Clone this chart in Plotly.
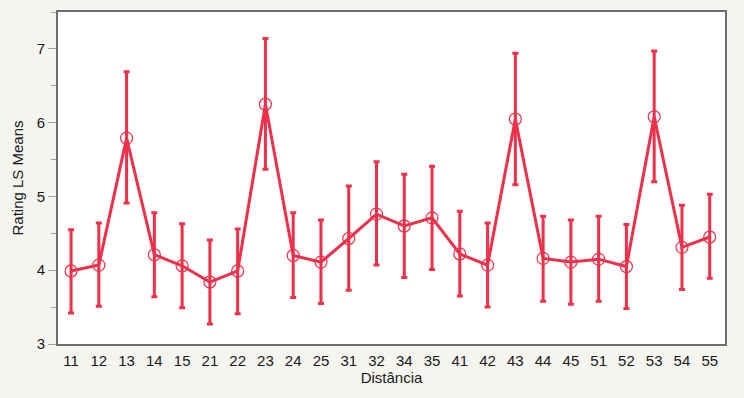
import plotly.graph_objects as go

categories = ["11", "12", "13", "14", "15", "21", "22", "23", "24", "25", "31", "32",
              "34", "35", "41", "42", "43", "44", "45", "51", "52", "53", "54", "55"]
means = [3.99, 4.07, 5.79, 4.21, 4.06, 3.84, 3.99, 6.25, 4.20, 4.11, 4.43, 4.76,
         4.60, 4.71, 4.22, 4.07, 6.05, 4.16, 4.11, 4.15, 4.05, 6.08, 4.31, 4.45]
upper = [4.55, 4.64, 6.69, 4.78, 4.63, 4.41, 4.56, 7.14, 4.78, 4.68, 5.14, 5.47,
         5.30, 5.41, 4.80, 4.64, 6.94, 4.73, 4.68, 4.73, 4.62, 6.97, 4.88, 5.03]
lower = [3.42, 3.51, 4.91, 3.64, 3.49, 3.27, 3.41, 5.37, 3.63, 3.55, 3.73, 4.07,
         3.90, 4.01, 3.65, 3.50, 5.16, 3.58, 3.54, 3.58, 3.48, 5.20, 3.74, 3.89]
y_ticks = [3, 4, 5, 6, 7]

red = "#F0304A"
err_plus = [u - m for u, m in zip(upper, means)]
err_minus = [m - l for m, l in zip(means, lower)]

fig = go.Figure()
fig.add_trace(go.Scatter(
    x=categories, y=means, mode="lines+markers",
    line=dict(color=red, width=3),
    marker=dict(symbol="circle-open", size=12, color=red, line=dict(width=1.2, color=red)),
    error_y=dict(type="data", symmetric=False, array=err_plus, arrayminus=err_minus,
                 color=red, thickness=3, width=3),
    showlegend=False,
))

fig.update_layout(
    width=744, height=398,
    margin=dict(l=58, r=19, t=12, b=54),
    paper_bgcolor="#F5F5F0", plot_bgcolor="white",
    font=dict(family="Liberation Sans, Arial, sans-serif", size=15, color="#1a1a1a"),
)
fig.update_xaxes(
    type="category", range=[-0.47, 23.55], automargin=False,
    showline=True, linecolor="#6e6e6e", linewidth=2, mirror=True,
    showgrid=False, ticks="", zeroline=False, ticklabelstandoff=2,
    title=dict(text="Distância", standoff=4, font=dict(size=15)),
)
fig.update_yaxes(
    range=[3, 7.5], tickvals=y_ticks, automargin=False,
    showline=True, linecolor="#6e6e6e", linewidth=2, mirror=True,
    showgrid=False, zeroline=False,
    ticks="outside", ticklen=8, tickcolor="#a0a0a0", tickwidth=1,
    minor=dict(dtick=0.5, ticks="outside", ticklen=5, tickcolor="#a0a0a0", tickwidth=1),
    title=dict(text="Rating LS Means", standoff=9, font=dict(size=15)),
)

fig.write_html("out.html", config={"displayModeBar": False},
               post_script="document.body.style.margin='0';document.body.style.background='#F5F5F0';")
